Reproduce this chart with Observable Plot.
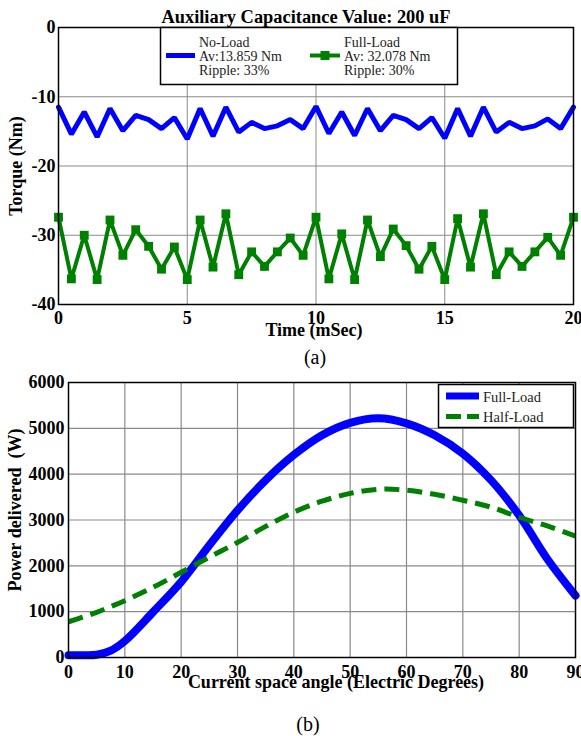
<!DOCTYPE html>
<html><head><meta charset="utf-8">
<script src="https://cdn.jsdelivr.net/npm/d3@7"></script>
<script src="https://cdn.jsdelivr.net/npm/@observablehq/plot@0.6"></script>
<style>
body{margin:0;background:#fff;}
#wrap{position:relative;width:581px;height:736px;overflow:hidden;}
#wrap svg{position:absolute;left:0;}
</style></head><body><div id="wrap"></div>
<script>
// ---- Panel (a): torque vs time ----
const timeMs = [0,0.5,1,1.5,2,2.5,3,3.5,4,4.5,5,5.5,6,6.5,7,7.5,8,8.5,9,9.5,10,10.5,11,11.5,12,12.5,13,13.5,14,14.5,15,15.5,16,16.5,17,17.5,18,18.5,19,19.5,20];
const noLoadTorque = [-11.5,-15.4,-12.2,-15.8,-11.7,-14.9,-12.7,-13.3,-14.6,-13.0,-16.1,-11.7,-15.7,-11.5,-15.1,-13.7,-14.6,-14.2,-13.3,-14.6,-11.4,-15.3,-12.2,-15.6,-11.7,-14.9,-12.7,-13.3,-14.6,-13.0,-16.0,-11.7,-15.7,-11.5,-15.1,-13.7,-14.6,-14.2,-13.2,-14.6,-11.5];
const fullLoadTorque = [-27.4,-36.3,-30.0,-36.4,-27.8,-32.9,-29.2,-31.6,-34.9,-31.7,-36.4,-27.8,-34.6,-26.9,-35.7,-32.4,-34.5,-32.4,-30.4,-32.9,-27.4,-36.3,-29.8,-36.4,-27.8,-33.1,-29.1,-31.5,-34.9,-31.6,-36.4,-27.6,-34.6,-26.9,-35.7,-32.4,-34.5,-32.4,-30.3,-32.9,-27.4];
const timeTicks = [0,5,10,15,20];
const torqueTicks = [0,-10,-20,-30,-40];

// ---- Panel (b): power vs current space angle ----
const angleDeg = [0,2.5,5,7.5,10,15,20,25,30,35,40,45,50,55,60,65,70,75,80,85,90];
const fullLoadPower = [50,50,60,150,360,990,1650,2450,3210,3870,4420,4850,5120,5220,5110,4850,4450,3870,3100,2150,1350];
const halfLoadPower = [780,880,985,1110,1240,1530,1860,2190,2510,2860,3170,3410,3580,3670,3650,3560,3430,3280,3060,2870,2650];
const angleTicks = [0,10,20,30,40,50,60,70,80,90];
const powerTicks = [0,1000,2000,3000,4000,5000,6000];

const font = "'Liberation Serif','Times New Roman',serif";
const axisStyle = {fontFamily: font, fontSize: "18px", fontWeight: "bold", color: "#000", background: "transparent", overflow: "visible"};

const rowsNo = timeMs.map((t,i)=>({t, v: noLoadTorque[i]}));
const rowsFull = timeMs.map((t,i)=>({t, v: fullLoadTorque[i]}));

const plotA = Plot.plot({
  width: 581, height: 340,
  marginLeft: 58, marginRight: 8, marginTop: 27, marginBottom: 36,
  style: axisStyle,
  x: {domain: [0,20], label: null},
  y: {domain: [-40,0], label: null},
  marks: [
    Plot.gridX(timeTicks.slice(1,-1), {stroke: "#8a8a8a", strokeOpacity: 1, strokeWidth: 1}),
    Plot.gridY(torqueTicks.slice(1,-1), {stroke: "#8a8a8a", strokeOpacity: 1, strokeWidth: 1}),
    Plot.line(rowsNo, {x: "t", y: "v", stroke: "#0000ff", strokeWidth: 5, strokeLinejoin: "miter"}),
    Plot.line(rowsFull, {x: "t", y: "v", stroke: "#008000", strokeWidth: 4, strokeLinejoin: "miter"}),
    Plot.dot(rowsFull, {x: "t", y: "v", symbol: "square", fill: "#008000", r: 5}),
    Plot.axisX(timeTicks, {tickSize: 0, tickPadding: 7, tickFormat: d => String(d), fill: "#000"}),
    Plot.axisY(torqueTicks, {tickSize: 0, tickPadding: 3, tickFormat: d => String(d), fill: "#000"}),
    Plot.frame({stroke: "#000", strokeWidth: 1.5})
  ]
});

const rowsFP = angleDeg.map((a,i)=>({a, p: fullLoadPower[i]}));
const rowsHP = angleDeg.map((a,i)=>({a, p: halfLoadPower[i]}));

const plotB = Plot.plot({
  width: 581, height: 396,
  marginLeft: 68, marginRight: 6, marginTop: 42, marginBottom: 79,
  style: axisStyle,
  x: {domain: [0,90], label: null},
  y: {domain: [0,6000], label: null},
  marks: [
    Plot.gridX(angleTicks.slice(1,-1), {stroke: "#8a8a8a", strokeOpacity: 1, strokeWidth: 1.2}),
    Plot.gridY(powerTicks.slice(1,-1), {stroke: "#8a8a8a", strokeOpacity: 1, strokeWidth: 1.2}),
    Plot.line(rowsFP, {x: "a", y: "p", stroke: "#0000ff", strokeWidth: 8, curve: "catmull-rom"}),
    Plot.line(rowsHP, {x: "a", y: "p", stroke: "#008000", strokeWidth: 5, strokeDasharray: "15,8", curve: "catmull-rom", strokeLinecap: "butt"}),
    Plot.axisX(angleTicks, {tickSize: 0, tickPadding: 8, tickFormat: d => String(d), fill: "#000"}),
    Plot.axisY(powerTicks, {tickSize: 0, tickPadding: 4, tickFormat: d => String(d), fill: "#000"}),
    Plot.frame({stroke: "#000", strokeWidth: 1.5})
  ]
});

const wrap = document.getElementById("wrap");
plotA.style.top = "0px";
plotB.style.top = "340px";
wrap.appendChild(plotA);
wrap.appendChild(plotB);

// ---- Overlay: titles, axis labels, legends ----
const NS = "http://www.w3.org/2000/svg";
const ov = document.createElementNS(NS, "svg");
ov.setAttribute("width", 581); ov.setAttribute("height", 736);
ov.style.top = "0px";
ov.style.fontFamily = font;
wrap.appendChild(ov);
function el(tag, attrs, text) {
  const e = document.createElementNS(NS, tag);
  for (const k in attrs) e.setAttribute(k, attrs[k]);
  if (text != null) e.textContent = text;
  ov.appendChild(e);
  return e;
}
function label(x, y, text, opts = {}) {
  const e = el("text", Object.assign({x, y, "font-size": 18, "font-weight": "bold", fill: "#000", "text-anchor": "middle"}, opts), text);
  e.style.whiteSpace = "pre";
  return e;
}
label(306, 23, "Auxiliary Capacitance Value: 200 uF", {"font-size": 18.4});
label(314, 336, "Time (mSec)");
label(0, 0, "Torque (Nm)", {transform: "translate(22,166) rotate(-90)"});
label(315, 364, "(a)", {"font-weight": "normal", "font-size": 20});
label(336, 688, "Current space angle (Electric Degrees)");
label(0, 0, "Power delivered  (W)", {transform: "translate(21,510) rotate(-90)"});
label(308, 731, "(b)", {"font-weight": "normal", "font-size": 20});

// legend (a)
el("rect", {x: 160.5, y: 27.5, width: 297, height: 57, fill: "#fff", stroke: "#000", "stroke-width": 1.5});
el("line", {x1: 166, x2: 195, y1: 55.5, y2: 55.5, stroke: "#0000ff", "stroke-width": 5});
const legA = [["No-Load","Av:13.859 Nm","Ripple: 33%"],["Full-Load","Av: 32.078 Nm","Ripple: 30%"]];
[199, 344].forEach((x, j) => legA[j].forEach((t, i) => label(x, 46.7 + i * 14.2, t, {"text-anchor": "start", "font-weight": "normal", "font-size": 14, fill: "#222"})));
el("line", {x1: 310, x2: 340, y1: 55.5, y2: 55.5, stroke: "#008000", "stroke-width": 4});
el("rect", {x: 320.5, y: 51, width: 9, height: 9, fill: "#008000"});

// legend (b)
el("rect", {x: 438.5, y: 384.5, width: 135, height: 43, fill: "#fff", stroke: "#000", "stroke-width": 1.5});
el("line", {x1: 446, x2: 479, y1: 396, y2: 396, stroke: "#0000ff", "stroke-width": 7});
el("line", {x1: 446, x2: 479, y1: 416.5, y2: 416.5, stroke: "#008000", "stroke-width": 5, "stroke-dasharray": "15,6"});
label(483, 401.5, "Full-Load", {"text-anchor": "start", "font-weight": "normal", "font-size": 14.5, fill: "#222"});
label(483, 422, "Half-Load", {"text-anchor": "start", "font-weight": "normal", "font-size": 14.5, fill: "#222"});
</script>
</body></html>
